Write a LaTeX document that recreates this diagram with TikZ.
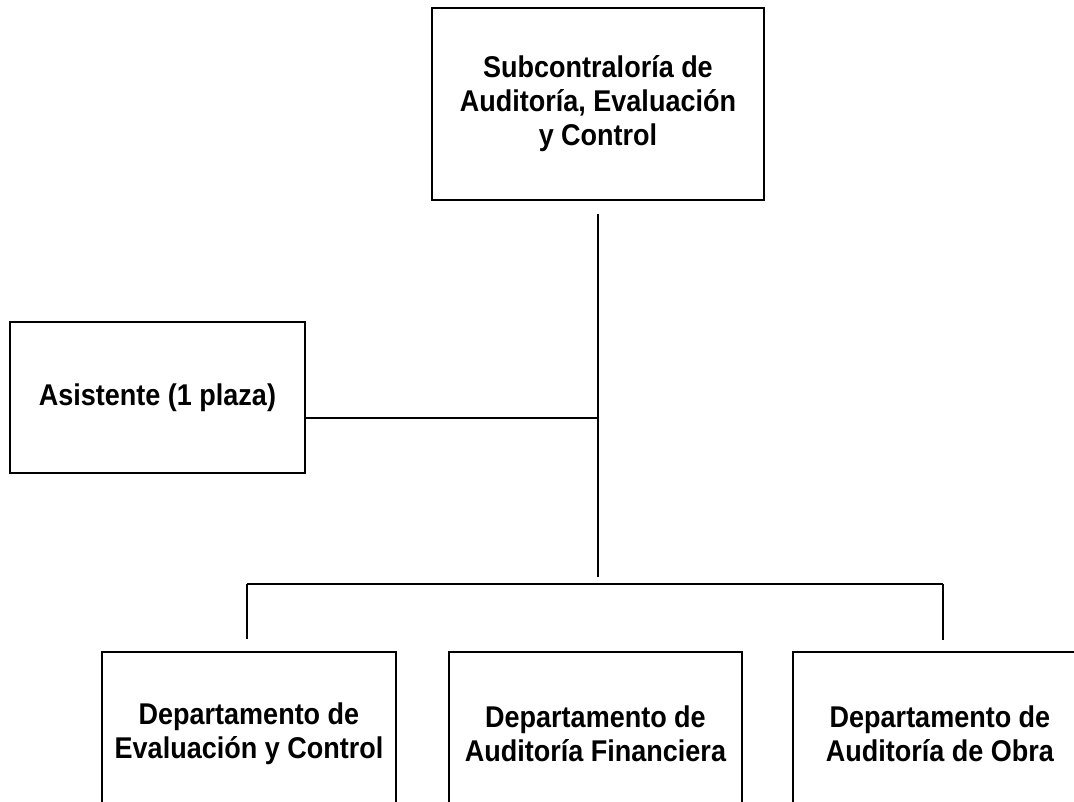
\documentclass[tikz,border=0pt]{standalone}
\usepackage{fontspec}
\setmainfont[FakeStretch=0.9]{Liberation Sans}
\usepackage{tikz}
\usetikzlibrary{positioning,calc}

\begin{document}
\begin{tikzpicture}[x=1pt,y=-1pt,
		unitbox/.style={draw,line width=2pt,rectangle,align=center,inner sep=0pt,
			font=\fontsize{30}{34}\selectfont\bfseries},
		link/.style={line width=2pt}]
			\useasboundingbox (0,0) rectangle (1074,801);
			\clip (0,0) rectangle (1074,801);

			% ---------------- Top ----------------
			\node[unitbox,minimum width=332pt,minimum height=192pt] (Sub) at (598,104)
				{Subcontraloría de\\Auditoría, Evaluación\\y Control};

			% ---------------- Staff ----------------
			\node[unitbox,minimum width=295pt,minimum height=151pt] (Asis) at (157.5,397.5)
				{\raisebox{-3pt}{Asistente (1 plaza)}};

			% ---------------- Departments (cut off below) ----------------
			\node[unitbox,minimum width=294pt,minimum height=164pt] (DepEC) at (249,734)
				{Departamento de\\Evaluación y Control};
			\node[unitbox,minimum width=293pt,minimum height=164pt] (DepAF) at (595.5,734)
				{Departamento de\\Auditoría Financiera};
			\node[unitbox,minimum width=294pt,minimum height=164pt] (DepAO) at (940,734)
				{Departamento de\\Auditoría de Obra};

			% Junctions
			\coordinate (Top) at (598,214);
			\coordinate (Mid) at (598,418);
			\coordinate (Low) at (598,577);
			\coordinate (BusL) at (247,584);
			\coordinate (BusR) at (943,584);
			\coordinate (DropL) at (247,639);
			\coordinate (DropR) at (943,640);

			% Edges
			\draw[link] (Top) -- (Mid) -- (Low);
			\draw[link] (Asis.east |- Mid) -- (Mid);
			\draw[link] (BusL) -- (BusR);
			\draw[link] (BusL) -- (DropL);
			\draw[link] (BusR) -- (DropR);
		\end{tikzpicture}
\end{document}
